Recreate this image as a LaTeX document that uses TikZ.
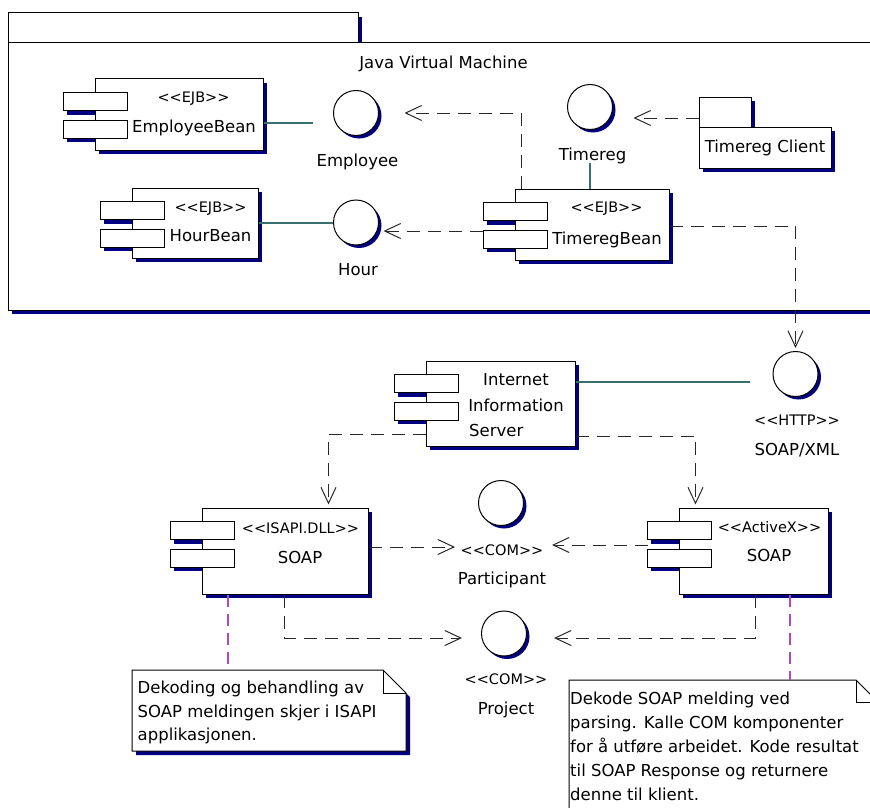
\documentclass[tikz,border=0pt]{standalone}
\usepackage{fontspec}
\newfontfamily\umlfont{DejaVu Sans}
\usetikzlibrary{arrows.meta,fit}

\definecolor{dropnavy}{RGB}{0,0,128}
\definecolor{tealline}{RGB}{56,112,112}
\definecolor{depgray}{RGB}{40,40,40}
\definecolor{notepurple}{RGB}{180,70,190}

% stereotype text: <<name>>
\newcommand\stereo[1]{<\kern0pt<#1>\kern0pt>}

% UML component: name, left, top, right, bottom
\newcommand\umlcomp[5]{%
  \fill[dropnavy] (#2-28,#3+17.5) rectangle (#2+36,#3+35.5);
  \fill[dropnavy] (#2-28,#3+45) rectangle (#2+36,#3+63);
  \fill[dropnavy] (#2+4,#3+4) rectangle (#4+4,#5+4);
  \node[boxline, inner sep=0pt, fit={(#2,#3) (#4,#5)}] (#1) {};
  \draw[boxline] (#2-32,#3+13.5) rectangle (#2+32,#3+31.5);
  \draw[boxline] (#2-32,#3+41) rectangle (#2+32,#3+59);
}

% interface lollipop: name, x, y
\newcommand\iface[3]{%
  \fill[dropnavy] (#2+3,#3+3) circle[radius=22.5pt];
  \node[circle, draw=black, fill=white, line width=1pt, minimum size=45pt, inner sep=0pt] (#1) at (#2,#3) {};
}

\tikzset{
  txt/.style={inner sep=0pt, font=\umlfont\fontsize{16.5pt}{20pt}\selectfont},
  sttxt/.style={inner sep=0pt, font=\umlfont\fontsize{14.5pt}{18pt}\selectfont},
  boxline/.style={draw=black, fill=white, line width=1pt},
  dep/.style={draw=depgray, line width=1pt, dash pattern=on 13pt off 8pt,
    -{Straight Barb[length=16pt,width=15pt]}},
  realiz/.style={draw=tealline, line width=1.4pt},
  notelink/.style={draw=notepurple, line width=2pt, dash pattern=on 12pt off 7pt},
}

\begin{document}
\begin{tikzpicture}[x=1pt,y=-1pt]
\useasboundingbox (0,0) rectangle (870,808);
\clip (0,0) rectangle (870,808);
\fill[white] (0,0) rectangle (870,808);

% ---- Java Virtual Machine package ----
\fill[dropnavy] (358,17) rectangle (362,43);
\fill[dropnavy] (12,310) rectangle (880,314);
\node[boxline, inner sep=0pt, fit={(8,13) (358,43)}] (jvmtab) {};
\node[boxline, inner sep=0pt, fit={(8,43) (880,310)}] (jvm) {};
\node[txt, anchor=base] (jvmname) at (443.5,68) {Java Virtual Machine};

% ---- Timereg Client package ----
\fill[dropnavy] (751,101) rectangle (755,127);
\fill[dropnavy] (703,131) rectangle (835,172);
\node[boxline, inner sep=0pt, fit={(699,97) (751,127)}] (tctab) {};
\node[boxline, inner sep=0pt, fit={(699,127) (831,168)}] (tc) {};
\node[txt, anchor=base] (tcname) at (765,152.7) {Timereg Client};

% ---- components ----
\umlcomp{eb}{95}{79}{263}{150}
\node[sttxt, anchor=base] (ebst) at (193.5,102.7) {\stereo{EJB}};
\node[txt, anchor=base] (ebname) at (194,132.7) {EmployeeBean};

\umlcomp{hb}{132}{188}{258}{258}
\node[sttxt, anchor=base] (hbst) at (210.5,212.3) {\stereo{EJB}};
\node[txt, anchor=base] (hbname) at (210.5,241.7) {HourBean};

\umlcomp{tb}{515}{189}{669}{260}
\node[sttxt, anchor=base] (tbst) at (606.5,212.7) {\stereo{EJB}};
\node[txt, anchor=base] (tbname) at (607,244) {TimeregBean};

\umlcomp{iis}{426}{361}{575}{446}
\node[txt, anchor=base] (iisa) at (516,385) {Internet};
\node[txt, anchor=base] (iisb) at (516,411) {Information};
\node[txt, anchor=base west] (iisc) at (469,436.5) {Server};

\umlcomp{isa}{202}{508}{368}{594}
\node[sttxt, anchor=base] (isast) at (300.5,533.3) {\stereo{ISAPI.DLL}};
\node[txt, anchor=base] (isaname) at (300,563.3) {SOAP};

\umlcomp{ax}{679}{508}{828}{594}
\node[sttxt, anchor=base] (axst) at (769.5,532.7) {\stereo{ActiveX}};
\node[txt, anchor=base] (axname) at (769,561.7) {SOAP};

% ---- interfaces ----
\iface{emp}{356}{113}
\node[txt, anchor=base] (empname) at (357.5,166) {Employee};
\iface{hour}{356}{222.5}
\node[txt, anchor=base] (hourname) at (358,275) {Hour};
\iface{treg}{590}{107}
\node[txt, anchor=base] (tregname) at (592.5,160.5) {Timereg};
\iface{soapxml}{795.5}{374}
\node[sttxt, anchor=base] (soapst) at (797,425) {\stereo{HTTP}};
\node[txt, anchor=base] (soapname) at (797,455) {SOAP/XML};
\iface{part}{501}{503}
\node[sttxt, anchor=base] (partst) at (502,555) {\stereo{COM}};
\node[txt, anchor=base] (partname) at (502,584) {Participant};
\iface{proj}{504}{633.5}
\node[sttxt, anchor=base] (projst) at (506,684.5) {\stereo{COM}};
\node[txt, anchor=base] (projname) at (506,714) {Project};

% ---- notes ----
\fill[dropnavy] (136,674) -- (387,674) -- (410,697) -- (410,755) -- (136,755) -- cycle;
\draw[boxline] (132,670) -- (383,670) -- (406,693) -- (406,751) -- (132,751) -- cycle;
\draw[line width=1pt] (383,670) -- (383,693) -- (406,693);
\node[inner sep=0pt, fit={(132,670) (406,751)}] (note1) {};
\node[txt, anchor=base west] (n1a) at (137.5,693.3) {Dekoding og behandling av};
\node[txt, anchor=base west] (n1b) at (137.5,717) {SOAP meldingen skjer i ISAPI};
\node[txt, anchor=base west] (n1c) at (137.5,740.7) {applikasjonen.};

\fill[dropnavy] (573,684) -- (860,684) -- (882,706) -- (882,834) -- (573,834) -- cycle;
\draw[boxline] (569,680) -- (856,680) -- (878,702) -- (878,830) -- (569,830) -- cycle;
\draw[line width=1pt] (856,680) -- (856,702) -- (878,702);
\node[inner sep=0pt, fit={(569,680) (878,830)}] (note2) {};
\node[txt, anchor=base west] (n2a) at (570,704) {Dekode SOAP melding ved};
\node[txt, anchor=base west] (n2b) at (570,728) {parsing. Kalle COM komponenter};
\node[txt, anchor=base west] (n2c) at (570,752) {for å utføre arbeidet. Kode resultat};
\node[txt, anchor=base west] (n2d) at (570,776) {til SOAP Response og returnere};
\node[txt, anchor=base west] (n2e) at (570,800) {denne til klient.};

% ---- realizations ----
\draw[realiz] ([yshift=-8.5pt]eb.east) -- ([xshift=-20.5pt,yshift=-10pt]emp.west);
\draw[realiz] (hb.east) -- (hb.east -| hour.west);
\draw[realiz] (tb.north -| treg.south) -- ([yshift=-56pt]treg.center);
\draw[realiz] ([yshift=21.5pt]iis.east) -- ([xshift=-22.5pt,yshift=-8pt]soapxml.west);

% ---- dependencies ----
\draw[dep] ([yshift=-6pt]tctab.west) -- ([xshift=20.5pt,yshift=-11pt]treg.east);
\draw[dep] ([xshift=7pt]tb.north west) |- ([xshift=25.5pt]emp.east);
\draw[dep] ([xshift=-32pt,yshift=-6.5pt]tb.west) -- ([xshift=4.5pt,yshift=-8.5pt]hour.east);
\draw[dep] ([yshift=-1.5pt]tb.east) -| ([yshift=3pt]soapxml.north);
\draw[dep] ([yshift=-30.5pt]iis.west) -| ([xshift=127pt,yshift=3pt]isa.north west);
\draw[dep] ([yshift=-32.5pt]iis.east) -| ([xshift=17pt,yshift=3pt]ax.north west);
\draw[dep] ([yshift=4pt]isa.east) -- ([xshift=-46pt,yshift=-44pt]part.center);
\draw[dep] ([xshift=-31pt,yshift=6pt]ax.west) -- ([xshift=51pt,yshift=-42pt]part.center);
\draw[dep] ([xshift=83pt]isa.south west) |- ([xshift=-42pt,yshift=-4.5pt]proj.center);
\draw[dep] ([xshift=77pt]ax.south west) |- ([xshift=50pt,yshift=-4.5pt]proj.center);

% ---- note attachments ----
\coordinate (isanote) at ([xshift=26pt]isa.south west);
\coordinate (axnote) at ([xshift=111pt]ax.south west);
\draw[notelink] (isanote) -- (isanote |- note1.north);
\draw[notelink] (axnote) -- (axnote |- note2.north);
\end{tikzpicture}
\end{document}
